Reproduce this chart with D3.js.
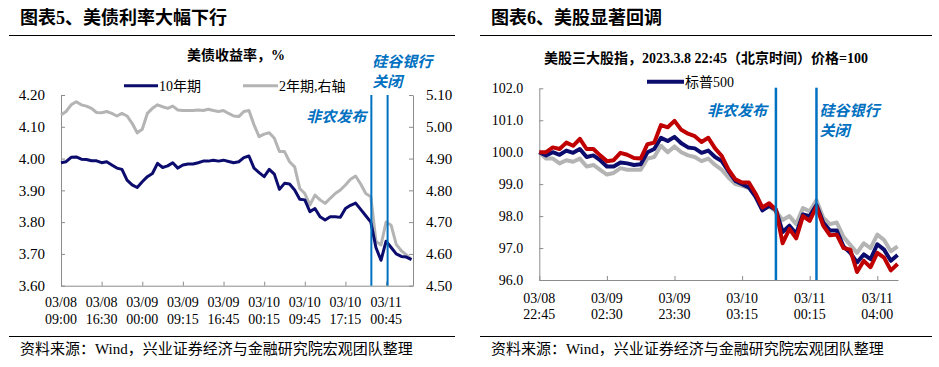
<!DOCTYPE html>
<html>
<head>
<meta charset="utf-8">
<title>美债利率与美股</title>
<style>
  body { margin: 0; background: #fff; }
  svg { display: block; }
  text { font-family: "Liberation Serif", "Noto Sans CJK SC", serif; fill: #000; }
  .cjk { font-family: "Liberation Serif", "Noto Sans CJK SC", sans-serif; }
  .title { font-size: 18px; font-weight: bold; }
  .subtitle { font-size: 14px; font-weight: bold; }
  .source { font-size: 15px; }
  .legend { font-size: 14px; }
  .note { font-size: 15px; font-weight: bold; font-style: italic; fill: #0070c0; font-family: "Noto Sans CJK SC", sans-serif; }
  .axis path, .axis line { stroke: #8c8c8c; }
  .axis text { font-family: "Liberation Serif", serif; fill: #000; }
  .rule { stroke: #000; stroke-width: 1.2; }
</style>
</head>
<body>
<div id="chart"></div>
<script src="https://cdnjs.cloudflare.com/ajax/libs/d3/7.8.5/d3.min.js"></script>
<script>
// ---- 图表5 data: 美债收益率 (%), every category step
var bondDates = ["03/08", "03/08", "03/09", "03/09", "03/09", "03/10", "03/10", "03/10", "03/11"];
var bondTimes = ["09:00", "16:30", "00:00", "09:15", "16:45", "00:15", "09:45", "17:15", "00:45"];
var bondTickEvery = 8;
var yield10y = [3.987, 3.99, 4.004, 4.005, 3.998, 3.997, 3.993, 3.993, 3.987, 3.99,
                3.98, 3.97, 3.966, 3.932, 3.917, 3.909, 3.927, 3.943, 3.953, 3.985,
                3.972, 3.977, 3.987, 3.97, 3.98, 3.983, 3.983, 3.987, 3.992, 3.992,
                3.995, 3.992, 3.995, 3.991, 3.987, 3.99, 4.003, 4.008, 3.97, 3.956,
                3.943, 3.966, 3.951, 3.903, 3.922, 3.92, 3.901, 3.872, 3.87, 3.833,
                3.843, 3.817, 3.807, 3.817, 3.817, 3.815, 3.843, 3.853, 3.86, 3.84,
                3.82, 3.80, 3.72, 3.68, 3.74, 3.72, 3.70, 3.692, 3.69, 3.682];
var yield2y = [5.037, 5.048, 5.069, 5.079, 5.069, 5.065, 5.058, 5.045, 5.044, 5.048,
               5.042, 5.034, 5.042, 5.034, 5.011, 4.981, 4.992, 5.042, 5.058, 5.069,
               5.063, 5.058, 5.065, 5.053, 5.051, 5.051, 5.051, 5.053, 5.051, 5.055,
               5.051, 5.048, 5.051, 5.042, 5.034, 5.032, 5.048, 5.051, 5.006, 4.969,
               4.977, 4.981, 4.964, 4.922, 4.922, 4.89, 4.874, 4.806, 4.79, 4.754,
               4.785, 4.77, 4.759, 4.775, 4.79, 4.801, 4.817, 4.835, 4.845, 4.82,
               4.79, 4.78, 4.64, 4.628, 4.70, 4.69, 4.63, 4.61, 4.597, 4.583];
var bondLeftTicks = [3.60, 3.70, 3.80, 3.90, 4.00, 4.10, 4.20];
var bondRightTicks = [4.50, 4.60, 4.70, 4.80, 4.90, 5.00, 5.10];
var bondEvents = [61.1, 64.3];   // category positions of 非农发布 / 硅谷银行关闭

// ---- 图表6 data: 美股三大股指, 2023.3.8 22:45 = 100
var stockDates = ["03/08", "03/09", "03/09", "03/10", "03/11", "03/11"];
var stockTimes = ["22:45", "02:30", "23:30", "03:15", "00:15", "04:00"];
var stockTickEvery = 10;
var spx = [100.0, 99.9, 100.0, 99.92, 100.05, 99.98, 100.1, 99.85, 99.9, 99.75,
           99.55, 99.55, 99.68, 99.65, 99.6, 99.62, 100.0, 100.1, 100.45, 100.35,
           100.48, 100.28, 100.15, 100.12, 99.98, 100.05, 99.85, 99.72, 99.4, 99.1,
           99.0, 98.9, 98.6, 98.18, 98.32, 98.2, 97.5, 97.7, 97.45, 98.05,
           98.0, 98.35, 97.8, 97.55, 97.55, 97.05, 96.85, 96.55, 96.8, 96.65,
           97.12, 96.95, 96.6, 96.78];
var nasdaq = [100.0, 100.0, 100.15, 100.1, 100.3, 100.2, 100.42, 100.1, 100.1, 99.9,
              99.72, 99.75, 99.98, 99.92, 99.82, 99.8, 100.25, 100.3, 100.85, 100.78,
              100.98, 100.7, 100.58, 100.5, 100.32, 100.45, 100.12, 99.88, 99.45, 99.15,
              99.05, 99.05, 98.7, 98.27, 98.4, 98.2, 97.15, 97.6, 97.3, 98.0,
              97.85, 98.3, 97.7, 97.4, 97.42, 97.0, 96.95, 96.25, 96.6, 96.4,
              96.85, 96.7, 96.3, 96.5];
var dow = [100.0, 99.8, 99.8, 99.65, 99.75, 99.7, 99.8, 99.55, 99.6, 99.45,
           99.3, 99.35, 99.5, 99.45, 99.45, 99.45, 99.8, 99.85, 100.2, 100.0,
           100.18, 100.0, 99.9, 99.85, 99.72, 99.8, 99.6, 99.45, 99.2, 99.0,
           98.95, 98.88, 98.65, 98.22, 98.3, 98.15, 97.88, 98.0, 97.75, 98.25,
           98.15, 98.5, 97.95, 97.75, 97.8, 97.35, 97.1, 96.85, 97.15, 97.0,
           97.42, 97.25, 96.9, 97.05];
var stockTicks = [96, 97, 98, 99, 100, 101, 102];
var stockEvents = [35, 41];

var NAVY = "#0c0c6e", GRAY = "#b4b4b4", RED = "#c00000", BLUE = "#0070c0";

var svg = d3.select("#chart").append("svg")
    .attr("width", 939).attr("height", 367);

// ---------- frames: titles, rules, source
function frame(x0, x1, tx, title) {
  svg.append("text").attr("class", "title cjk").attr("x", tx).attr("y", 24).text(title);
  svg.append("line").attr("class", "rule").attr("x1", x0).attr("x2", x1).attr("y1", 35.5).attr("y2", 35.5);
  svg.append("line").attr("class", "rule").attr("x1", x0).attr("x2", x1).attr("y1", 336.5).attr("y2", 336.5);
  svg.append("text").attr("class", "source cjk").attr("x", tx).attr("y", 354)
     .text("资料来源：Wind，兴业证券经济与金融研究院宏观团队整理");
}
frame(9, 455, 20, "图表5、美债利率大幅下行");
frame(480, 932, 491, "图表6、美股显著回调");

function drawXLabels(g, x, dates, times, every, y1, y2) {
  dates.forEach(function (d, k) {
    var t = g.append("text").attr("text-anchor", "middle").style("font-size", "14px");
    t.append("tspan").attr("x", x(k * every)).attr("y", y1).text(d);
    t.append("tspan").attr("x", x(k * every)).attr("y", y2).text(times[k]);
  });
}

// ---------- 图表5
(function () {
  var x = d3.scaleLinear().domain([0, 69.3]).range([61, 413]);
  var yL = d3.scaleLinear().domain([3.60, 4.20]).range([285.7, 95]);
  var yR = d3.scaleLinear().domain([4.50, 5.10]).range([285.7, 95]);
  var g = svg.append("g");

  svg.append("text").attr("class", "subtitle cjk").attr("x", 236).attr("y", 60)
     .attr("text-anchor", "middle").text("美债收益率，%");

  // legend
  var lg = svg.append("g").attr("class", "legend");
  lg.append("line").attr("x1", 124).attr("x2", 158).attr("y1", 85.7).attr("y2", 85.7)
    .attr("stroke", NAVY).attr("stroke-width", 3);
  lg.append("text").attr("x", 159).attr("y", 91).attr("class", "legend cjk").text("10年期");
  lg.append("line").attr("x1", 243).attr("x2", 278).attr("y1", 85.7).attr("y2", 85.7)
    .attr("stroke", GRAY).attr("stroke-width", 3);
  lg.append("text").attr("x", 279).attr("y", 91).attr("class", "legend cjk").text("2年期,右轴");

  g.append("g").attr("class", "axis").attr("transform", "translate(61,0)")
    .call(d3.axisLeft(yL).tickValues(bondLeftTicks).tickFormat(d3.format(".2f"))
      .tickSizeInner(-4).tickSizeOuter(0).tickPadding(16))
    .selectAll("text").style("font-size", "15px");
  g.append("g").attr("class", "axis").attr("transform", "translate(413,0)")
    .call(d3.axisRight(yR).tickValues(bondRightTicks).tickFormat(d3.format(".2f"))
      .tickSizeInner(-4).tickSizeOuter(0).tickPadding(13))
    .selectAll("text").style("font-size", "15px");
  var xa = g.append("g").attr("class", "axis").attr("transform", "translate(0,285.7)")
    .call(d3.axisBottom(x).tickValues(d3.range(0, 69, bondTickEvery)).tickFormat("")
      .tickSizeInner(-4).tickSizeOuter(0));
  drawXLabels(g, x, bondDates, bondTimes, bondTickEvery, 307, 324);

  var line2 = d3.line().x(function (d, i) { return x(i); }).y(function (d) { return yR(d); });
  var line10 = d3.line().x(function (d, i) { return x(i); }).y(function (d) { return yL(d); });
  g.append("path").datum(yield2y).attr("d", line2).attr("fill", "none")
    .attr("stroke", GRAY).attr("stroke-width", 3).attr("stroke-linejoin", "round");
  g.append("path").datum(yield10y).attr("d", line10).attr("fill", "none")
    .attr("stroke", NAVY).attr("stroke-width", 3).attr("stroke-linejoin", "round");

  g.selectAll(".ev").data(bondEvents).enter().append("line")
    .attr("x1", x).attr("x2", x).attr("y1", 95).attr("y2", 285.7)
    .attr("stroke", BLUE).attr("stroke-width", 2);

  g.append("text").attr("class", "note").attr("x", x(bondEvents[0]) - 5).attr("y", 122)
    .attr("text-anchor", "end").text("非农发布");
  g.append("text").attr("class", "note").attr("x", x(bondEvents[0]) + 1).attr("y", 67).text("硅谷银行");
  g.append("text").attr("class", "note").attr("x", x(bondEvents[0]) + 1).attr("y", 87).text("关闭");
})();

// ---------- 图表6
(function () {
  var x = d3.scaleLinear().domain([0, 53.06]).range([539.3, 898]);
  var y = d3.scaleLinear().domain([96, 102]).range([280, 88.3]);
  var g = svg.append("g");

  svg.append("text").attr("class", "subtitle cjk").attr("x", 706).attr("y", 63)
     .attr("text-anchor", "middle").text("美股三大股指，2023.3.8 22:45（北京时间）价格=100");

  svg.append("line").attr("x1", 647).attr("x2", 684).attr("y1", 81.7).attr("y2", 81.7)
    .attr("stroke", NAVY).attr("stroke-width", 4);
  svg.append("text").attr("class", "legend cjk").attr("x", 685).attr("y", 87).text("标普500");

  g.append("g").attr("class", "axis").attr("transform", "translate(539.3,0)")
    .call(d3.axisLeft(y).tickValues(stockTicks).tickFormat(d3.format(".1f"))
      .tickSizeInner(-4).tickSizeOuter(0).tickPadding(16))
    .selectAll("text").style("font-size", "14px");
  g.append("g").attr("class", "axis").attr("transform", "translate(0,280)")
    .call(d3.axisBottom(x).tickValues(d3.range(0, 53, stockTickEvery)).tickFormat("")
      .tickSizeInner(-4).tickSizeOuter(0));
  drawXLabels(g, x, stockDates, stockTimes, stockTickEvery, 302.5, 319);

  var line = d3.line().x(function (d, i) { return x(i); }).y(function (d) { return y(d); });
  [[dow, GRAY], [spx, NAVY], [nasdaq, RED]].forEach(function (s) {
    g.append("path").datum(s[0]).attr("d", line).attr("fill", "none")
      .attr("stroke", s[1]).attr("stroke-width", 4).attr("stroke-linejoin", "round");
  });

  g.selectAll(".ev").data(stockEvents).enter().append("line")
    .attr("x1", x).attr("x2", x).attr("y1", 87.7).attr("y2", 280)
    .attr("stroke", BLUE).attr("stroke-width", 2.5);

  g.append("text").attr("class", "note").attr("x", x(stockEvents[0]) - 9).attr("y", 116)
    .attr("text-anchor", "end").text("非农发布");
  g.append("text").attr("class", "note").attr("x", x(stockEvents[1]) + 3).attr("y", 116).text("硅谷银行");
  g.append("text").attr("class", "note").attr("x", x(stockEvents[1]) + 3).attr("y", 136).text("关闭");
})();
</script>
</body>
</html>
